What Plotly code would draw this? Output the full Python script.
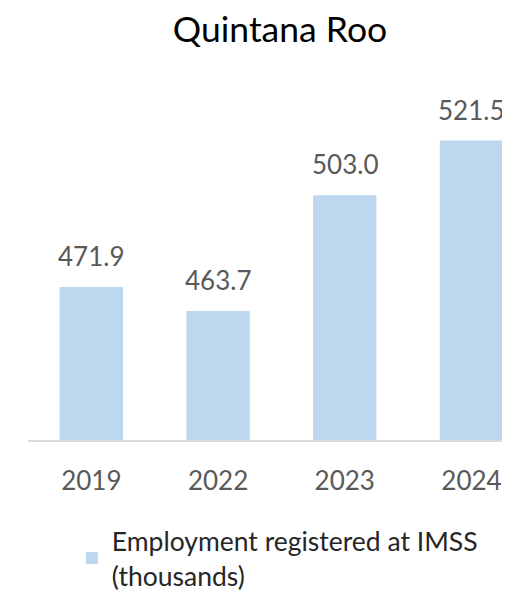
import plotly.graph_objects as go

years = ["2019", "2022", "2023", "2024"]
employment = [471.9, 463.7, 503.0, 521.5]
labels = ["471.9", "463.7", "503.0", "521.5"]
series_name = "Employment registered at IMSS<br>(thousands)"

FONT = "Lato"
fig = go.Figure()
fig.add_trace(go.Bar(
    x=years, y=employment, name=series_name,
    marker=dict(color="#BDD7EE", line=dict(width=0)),
    showlegend=True,
))

for i, (y, t) in enumerate(zip(employment, labels)):
    fig.add_annotation(x=i, y=y, text=t, showarrow=False, yanchor="middle",
                       yshift=31, font=dict(family=FONT, size=26, color="#595959"))

fig.update_layout(
    width=502, height=584,
    margin=dict(l=20, r=0, t=72, b=152, autoexpand=False),
    paper_bgcolor="white", plot_bgcolor="white",
    bargap=0.5,
    title=dict(text="Quintana Roo", x=272/502, xanchor="center", y=1-22/584, yanchor="middle",
               font=dict(family=FONT, size=35.5, color="#000000")),
    xaxis=dict(type="category", range=[-0.5, 3.304], showline=True, linecolor="#D9D9D9", linewidth=2,
               showgrid=False, ticks="", ticklabelstandoff=17,
               tickfont=dict(family=FONT, size=26, color="#595959")),
    yaxis=dict(range=[420, 420 + 360/2.95], visible=False, showgrid=False),
    showlegend=True,
    legend=dict(orientation="h", x=0.091, xanchor="left", y=-0.214, yanchor="top",
                maxheight=200, tracegroupgap=0,
                font=dict(family=FONT, size=26.5, color="#262626"),
                bgcolor="rgba(0,0,0,0)"),
)

fig.write_html("out.html")
